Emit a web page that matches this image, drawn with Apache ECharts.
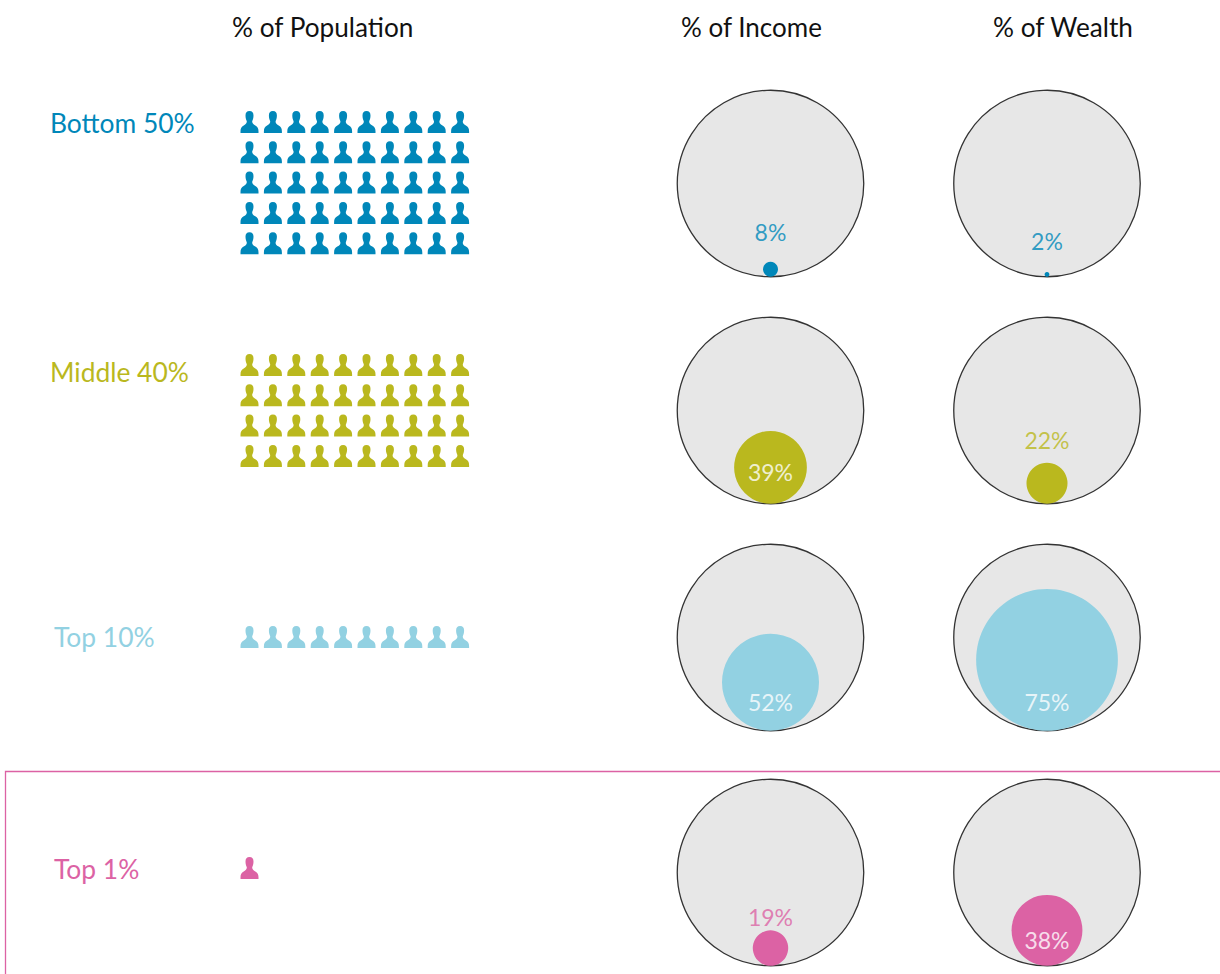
<!DOCTYPE html>
<html>
<head>
<meta charset="utf-8">
<style>
  html, body { margin: 0; padding: 0; background: #fff; overflow: hidden; }
  #main { width: 1220px; height: 974px; font-variant-ligatures: none; }
  #main text { font-variant-ligatures: none; }
</style>
<script src="https://cdn.jsdelivr.net/npm/echarts@6/dist/echarts.min.js"></script>
</head>
<body>
<div id="main"></div>
<script>
const groupNames = ['Bottom 50%', 'Middle 40%', 'Top 10%', 'Top 1%']
const populationCounts = [50, 40, 10, 1]
const incomeShares = [8, 39, 52, 19]
const wealthShares = [2, 22, 75, 38]
// circle sizes, the 2% and 75% circles are a little larger than their labels
const wealthCircles = [2.6, 22, 76, 38]
const shareColumns = ['% of Income', '% of Wealth']

const colors = ['#0087b9', '#bab81e', '#92d1e2', '#dc62a4']
// layout, all in px
const FONT = 'Lato'
const peopleFirstRow = [122, 365, 637, 868]
const circleTop = [90, 317, 544, 779]
const labelLeft = [50, 50, 54, 54]
const labelY = [123, 372, 637, 869]
const DIAMETER = 186.5
const PERSON = 'path://M9 0C6.2 0 5 1.8 5 4.4C5 6.8 5.6 8.6 6.3 10.2C6.4 12 5.6 13 3.2 14.4C1 15.6 0 17 0 20.2L0 22L18 22L18 20.2C18 17 17 15.6 14.8 14.4C12.4 13 11.6 12 11.7 10.2C12.4 8.6 13 6.8 13 4.4C13 1.8 11.8 0 9 0Z'
// height of each percent label above the bottom of its ring, in % of the ring
const incomeLabelHeights = [24, 17.1, 15.5, 26.2]
const wealthLabelHeights = [19.2, 34.2, 15.5, 13.9]

const grid = []
const xAxis = []
const yAxis = []
const series = []

groupNames.forEach((name, g) => {
  // people block
  const rows = Math.ceil(populationCounts[g] / 10)
  const people = []
  for (let i = 0; i < populationCounts[g]; i++) {
    people.push([i % 10, Math.floor(i / 10)])
  }
  grid.push({ left: 249.5, width: 210.6, top: peopleFirstRow[g] - 15.15, height: rows * 30.3 })
  xAxis.push({ type: 'value', gridIndex: g * 2, min: 0, max: 9, show: false })
  yAxis.push({ type: 'value', gridIndex: g * 2, min: -0.5, max: rows - 0.5, inverse: true, show: false })
  series.push({
    type: 'scatter',
    name: name,
    xAxisIndex: g * 2,
    yAxisIndex: g * 2,
    symbol: PERSON,
    symbolSize: [18, 22],
    symbolKeepAspect: false,
    itemStyle: { color: colors[g], opacity: 1 },
    silent: true,
    clip: false,
    data: people
  })

  // rings, y axis runs 0-100 from the bottom of the ring to the top
  const shares = [incomeShares[g], wealthShares[g]]
  const circles = [incomeShares[g], wealthCircles[g]]
  const heights = [incomeLabelHeights[g], wealthLabelHeights[g]]
  grid.push({ left: 632.25, width: 553, top: circleTop[g] + 0.25, height: DIAMETER })
  xAxis.push({ type: 'category', gridIndex: g * 2 + 1, data: shareColumns, show: false })
  yAxis.push({ type: 'value', gridIndex: g * 2 + 1, min: 0, max: 100, show: false })
  series.push({
    type: 'scatter',
    xAxisIndex: g * 2 + 1,
    yAxisIndex: g * 2 + 1,
    symbolSize: DIAMETER,
    itemStyle: { color: '#e7e7e7', borderColor: '#333', borderWidth: 1.3, opacity: 1 },
    silent: true,
    clip: false,
    z: 2,
    data: shareColumns.map((c) => [c, 50])
  })
  series.push({
    type: 'scatter',
    xAxisIndex: g * 2 + 1,
    yAxisIndex: g * 2 + 1,
    symbolSize: (v) => v[1] * 2 * DIAMETER / 100,
    itemStyle: { color: colors[g], opacity: 1 },
    silent: true,
    clip: false,
    z: 3,
    data: circles.map((v, i) => [shareColumns[i], v / 2])
  })
  series.push({
    type: 'scatter',
    xAxisIndex: g * 2 + 1,
    yAxisIndex: g * 2 + 1,
    symbolSize: 1,
    itemStyle: { color: 'transparent' },
    silent: true,
    clip: false,
    z: 4,
    data: shares.map((v, i) => ({
      value: [shareColumns[i], heights[i]],
      label: {
        show: true,
        position: 'inside',
        formatter: v + '%',
        fontFamily: FONT,
        fontSize: 23,
        color: v >= 38 ? '#fff' : colors[g]
      }
    }))
  })
})

const graphic = [
  { type: 'rect', z: 0, silent: true, shape: { x: 5.5, y: 771.5, width: 1300, height: 300 }, style: { fill: 'none', stroke: '#dc62a4', lineWidth: 1.3 } },
  { type: 'text', x: 232, y: 27, style: { text: '% of Population', font: '26.2px ' + FONT, fill: '#111', verticalAlign: 'middle' } },
  { type: 'text', x: 681, y: 27, style: { text: shareColumns[0], font: '26px ' + FONT, fill: '#111', verticalAlign: 'middle' } },
  { type: 'text', x: 993, y: 27, style: { text: shareColumns[1], font: '26.2px ' + FONT, fill: '#111', verticalAlign: 'middle' } }
]
groupNames.forEach((name, g) => {
  graphic.push({ type: 'text', x: labelLeft[g], y: labelY[g], style: { text: name, font: '26.4px ' + FONT, fill: colors[g], verticalAlign: 'middle' } })
})

// svg renderer so the css above can switch off the tt/ti ligatures
const myChart = echarts.init(document.getElementById('main'), null, { renderer: 'svg' })
myChart.setOption({
  animation: false,
  backgroundColor: '#fff',
  grid: grid,
  xAxis: xAxis,
  yAxis: yAxis,
  series: series,
  graphic: graphic
})
</script>
</body>
</html>
